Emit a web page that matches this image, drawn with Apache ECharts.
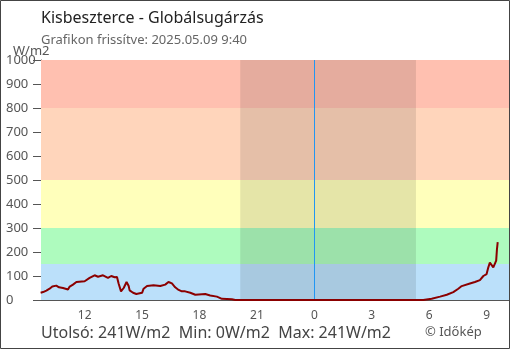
<!DOCTYPE html>
<html><head><meta charset="utf-8">
<script src="https://cdn.jsdelivr.net/npm/echarts@6/dist/echarts.min.js"></script>
<style>html,body{margin:0;padding:0;background:#fff}#c{width:510px;height:350px}</style>
</head><body><div id="c"></div>
<script>
// time in hours since 2025.05.08 00:00
const times = [9.70,9.83,10.00,10.17,10.31,10.52,10.66,10.87,11.13,11.22,11.39,11.57,12.00,12.26,12.52,12.70,12.96,13.22,13.39,13.57,13.69,13.77,13.90,14.04,14.19,14.30,14.35,14.53,14.70,15.00,15.08,15.26,15.60,15.95,16.21,16.38,16.56,16.73,16.91,17.08,17.25,17.52,17.78,18.30,18.56,18.91,19.17,19.69,19.87,24.00,29.69,30.13,30.57,30.92,31.26,31.52,31.70,32.13,32.39,32.65,32.83,33.00,33.09,33.17,33.26,33.35,33.45,33.50,33.54,33.58];
const radiation = [30,33,39,47,56,60,53,50,44,56,64,75,78,92,103,97,103,92,100,95,96,70,36,50,75,58,40,30,25,30,47,58,61,58,64,75,69,53,42,36,36,30,22,25,19,14,5,3,0,0,0,5,14,22,33,47,58,69,75,83,100,108,136,156,150,136,139,164,211,241];
const xTicks = [12,15,18,21,24,27,30,33];
const bandLimits = [0,150,300,500,800,1000];
const bandColors = ['#bbe0fa','#aefbbe','#ffffbb','#ffd5bb','#ffc0b0'];
const night = [20.13, 29.31];
const midnight = 24;
const titleText = 'Kisbeszterce - Globálsugárzás';
const subtitleText = 'Grafikon frissítve: 2025.05.09 9:40';
const unitText = 'W/m2';
const footerText = 'Utolsó: 241W/m2  Min: 0W/m2  Max: 241W/m2';
const creditText = '© Időkép';

const FONT = '"Noto Sans", "Open Sans", sans-serif';
const chart = echarts.init(document.getElementById('c'), null, {renderer:'canvas'});
const bandAreas = bandColors.map((c,i)=>[{yAxis:bandLimits[i], itemStyle:{color:c, opacity:1}},{yAxis:bandLimits[i+1]}]);
bandAreas.push([{xAxis:night[0], itemStyle:{color:'rgba(0,0,0,0.1)', opacity:1}},{xAxis:night[1]}]);
chart.setOption({
  animation:false,
  grid:{left:41,right:1,top:60,bottom:50},
  xAxis:{type:'value',min:9.72,max:34.17,
    axisLine:{show:true,lineStyle:{color:'#555',width:1}},
    axisTick:{show:true,inside:true,length:7,customValues:xTicks,lineStyle:{color:'#555'}},
    axisLabel:{customValues:xTicks,formatter:v=>String(Math.round(v)%24),color:'#555',fontSize:12,fontFamily:FONT,margin:10},
    splitLine:{show:false}},
  yAxis:{type:'value',min:0,max:1000,interval:100,
    axisLine:{show:true,lineStyle:{color:'#555',width:1}},
    axisTick:{show:true,length:8,lineStyle:{color:'#555'}},
    axisLabel:{align:'left',margin:35,color:'#555',fontSize:13,fontFamily:FONT,formatter:v=>String(v)},
    splitLine:{show:false}},
  series:[{type:'line',data:times.map((t,i)=>[t,radiation[i]]),showSymbol:false,
    lineStyle:{color:'#8b0000',width:2},z:5,
    markArea:{silent:true,data:bandAreas},
    markLine:{silent:true,symbol:'none',label:{show:false},lineStyle:{color:'#2196f3',width:1,type:'solid'},data:[{xAxis:midnight}]}
  }],
  graphic:[
    {type:'rect',shape:{x:0.5,y:0.5,width:509,height:348},style:{fill:'none',stroke:'#444',lineWidth:1},z:100},
    {type:'text',x:41,y:18,style:{text:titleText,font:'16px '+FONT,fill:'#222',textVerticalAlign:'middle'}},
    {type:'text',x:41,y:40.5,style:{text:subtitleText,font:'13px '+FONT,fill:'#666',textVerticalAlign:'middle'}},
    {type:'text',x:13,y:51.5,style:{text:unitText,font:'13px '+FONT,fill:'#555',textVerticalAlign:'middle'}},
    {type:'text',x:41,y:333,style:{text:footerText,font:'16px '+FONT,fill:'#444',textVerticalAlign:'middle'}},
    {type:'text',x:425,y:332,style:{text:creditText,font:'13px '+FONT,fill:'#555',textVerticalAlign:'middle'}}
  ]
});
</script></body></html>
